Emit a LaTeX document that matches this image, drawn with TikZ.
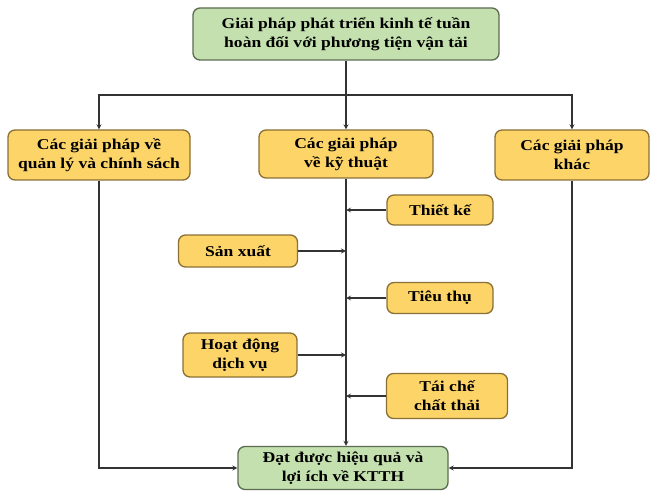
\documentclass[tikz,border=0pt]{standalone}
\usepackage{fontspec}
\setmainfont{Liberation Serif}
\newfontfamily\boxfont{Liberation Serif}[FakeStretch=1.17]
\definecolor{boxyellow}{HTML}{FCD468}
\definecolor{boxbrown}{HTML}{8A7034}
\definecolor{boxgreen}{HTML}{C4E0AE}
\definecolor{boxgray}{HTML}{5C6B52}
\definecolor{linegray}{HTML}{333333}
\begin{document}
\begin{tikzpicture}[x=1pt, y=-1pt, >=stealth,
  box/.style={draw=boxbrown, fill=boxyellow, rounded corners=7pt, line width=1.3pt, align=center, inner sep=1pt, font=\boxfont\bfseries\fontsize{15}{19}\selectfont},
  gbox/.style={box, draw=boxgray, fill=boxgreen},
  link/.style={draw=linegray, line width=1.2pt}]
\useasboundingbox (0,0) rectangle (652,494);
\node[gbox, minimum width=306, minimum height=52](top) at (346,34) {Giải pháp phát triển kinh tế tuần\\hoàn đối với phương tiện vận tải};
\node[box, minimum width=182, minimum height=50](left) at (99,155) {Các giải pháp về\\quản lý và chính sách};
\node[box, minimum width=174, minimum height=48](mid) at (346,154) {Các giải pháp\\về kỹ thuật};
\node[box, minimum width=154, minimum height=50](right) at (572,155) {Các giải pháp\\khác};
\node[box, minimum width=106, minimum height=30](design) at (440,210) {Thiết kế};
\node[box, minimum width=119, minimum height=32](prod) at (238,251) {Sản xuất};
\node[box, minimum width=106, minimum height=31](cons) at (440,298) {Tiêu thụ};
\node[box, minimum width=114, minimum height=44](serv) at (240,355) {Hoạt động\\dịch vụ};
\node[box, minimum width=121, minimum height=45](recy) at (447,396) {Tái chế\\chất thải};
\node[gbox, minimum width=210, minimum height=43](bot) at (343,468) {Đạt được hiệu quả và\\lợi ích về KTTH};

\coordinate(bus) at (346,95);
\coordinate(spine) at (mid.south);
\draw[link](top)--(bus);
\draw[link,->](bus)-|(left);
\draw[link,->](bus)-|(right);
\draw[link,->](bus)--(mid);
\draw[link,->](spine)--(spine |- bot.north);
\draw[link,->](design.west)--(design.west -| spine);
\draw[link,->](prod.east)--(prod.east -| spine);
\draw[link,->](cons.west)--(cons.west -| spine);
\draw[link,->](serv.east)--(serv.east -| spine);
\draw[link,->](recy.west)--(recy.west -| spine);
\draw[link,->](left)|-(bot);
\draw[link,->](right)|-(bot);

\end{tikzpicture}
\end{document}
